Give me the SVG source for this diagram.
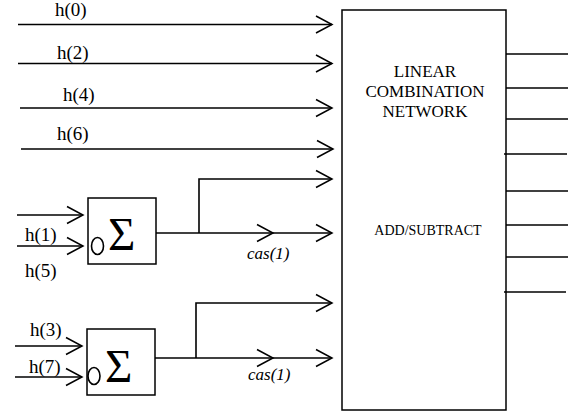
<svg xmlns="http://www.w3.org/2000/svg" width="569" height="415" viewBox="0 0 569 415">
<defs>
<marker id="arr" markerUnits="userSpaceOnUse" viewBox="-17 -10 19 20" refX="0" refY="0" markerWidth="19" markerHeight="20" orient="auto">
<path d="M-16,-8.5 L0,0 L-16,8.5" fill="none" stroke="#000" stroke-width="1.5"/>
</marker>
</defs>
<style>
.ln{stroke:#000;stroke-width:1.6;fill:none}
.box{stroke:#000;stroke-width:1.5;fill:#fff}
text{font-family:'Liberation Serif','Times New Roman','DejaVu Serif',serif;fill:#000}
.lbl{font-size:19px}
.cas{font-size:17px;font-style:italic}
.net{font-size:17px;text-anchor:middle}
.sig{font-size:47px}
</style>
<rect width="569" height="415" fill="#fff"/>
<g id="network">
<rect class="box" x="342" y="10" width="164" height="400"/>
<text class="net" x="425" y="77">LINEAR</text>
<text class="net" x="425" y="97">COMBINATION</text>
<text class="net" x="425" y="117">NETWORK</text>
<text class="net" x="428" y="235" style="font-size:14px">ADD/SUBTRACT</text>
</g>
<g id="sum1">
<rect class="box" x="88" y="198" width="68" height="66"/>
<ellipse class="ln" cx="97.5" cy="246" rx="6" ry="8.5"/>
<text class="sig" x="108" y="250">Σ</text>
</g>
<g id="sum2">
<rect class="box" x="87" y="329" width="68" height="66"/>
<ellipse class="ln" cx="94" cy="376" rx="6" ry="8.5"/>
<text class="sig" x="105" y="382">Σ</text>
</g>
<g id="labels">
<text class="lbl" x="55" y="16">h(0)</text>
<text class="lbl" x="57" y="59">h(2)</text>
<text class="lbl" x="63" y="101">h(4)</text>
<text class="lbl" x="57" y="140">h(6)</text>
<text class="lbl" x="25" y="241">h(1)</text>
<text class="lbl" x="25" y="277">h(5)</text>
<text class="lbl" x="30" y="336">h(3)</text>
<text class="lbl" x="29" y="373">h(7)</text>
<text class="cas" x="247" y="259">cas(1)</text>
<text class="cas" x="248" y="380">cas(1)</text>
</g>
<g id="connectors">
<line class="ln" x1="18" y1="24.5" x2="332" y2="24.5" marker-end="url(#arr)"/>
<line class="ln" x1="18" y1="63.5" x2="332" y2="63.5" marker-end="url(#arr)"/>
<line class="ln" x1="20" y1="108" x2="332" y2="108" marker-end="url(#arr)"/>
<line class="ln" x1="21" y1="149" x2="333" y2="149" marker-end="url(#arr)"/>
<line class="ln" x1="17" y1="215" x2="83" y2="215" marker-end="url(#arr)"/>
<line class="ln" x1="17" y1="246" x2="83" y2="246" marker-end="url(#arr)"/>
<line class="ln" x1="15" y1="346" x2="82" y2="346" marker-end="url(#arr)"/>
<line class="ln" x1="15" y1="377" x2="82" y2="377" marker-end="url(#arr)"/>
<polyline class="ln" points="199,233 199,179 332,179" marker-end="url(#arr)"/>
<line class="ln" x1="156" y1="233" x2="273" y2="233" marker-end="url(#arr)"/>
<line class="ln" x1="273" y1="233" x2="332" y2="233" marker-end="url(#arr)"/>
<polyline class="ln" points="196,358 196,303 332,303" marker-end="url(#arr)"/>
<line class="ln" x1="155" y1="358" x2="273" y2="358" marker-end="url(#arr)"/>
<line class="ln" x1="273" y1="358" x2="332" y2="358" marker-end="url(#arr)"/>
<line class="ln" x1="506" y1="54" x2="568" y2="54"/>
<line class="ln" x1="506" y1="88" x2="568" y2="88"/>
<line class="ln" x1="506" y1="119" x2="568" y2="119"/>
<line class="ln" x1="504" y1="154" x2="567" y2="154"/>
<line class="ln" x1="506" y1="191" x2="568" y2="191"/>
<line class="ln" x1="506" y1="225" x2="568" y2="225"/>
<line class="ln" x1="506" y1="257" x2="568" y2="257"/>
<line class="ln" x1="504" y1="292" x2="566" y2="292"/>
</g>
</svg>
